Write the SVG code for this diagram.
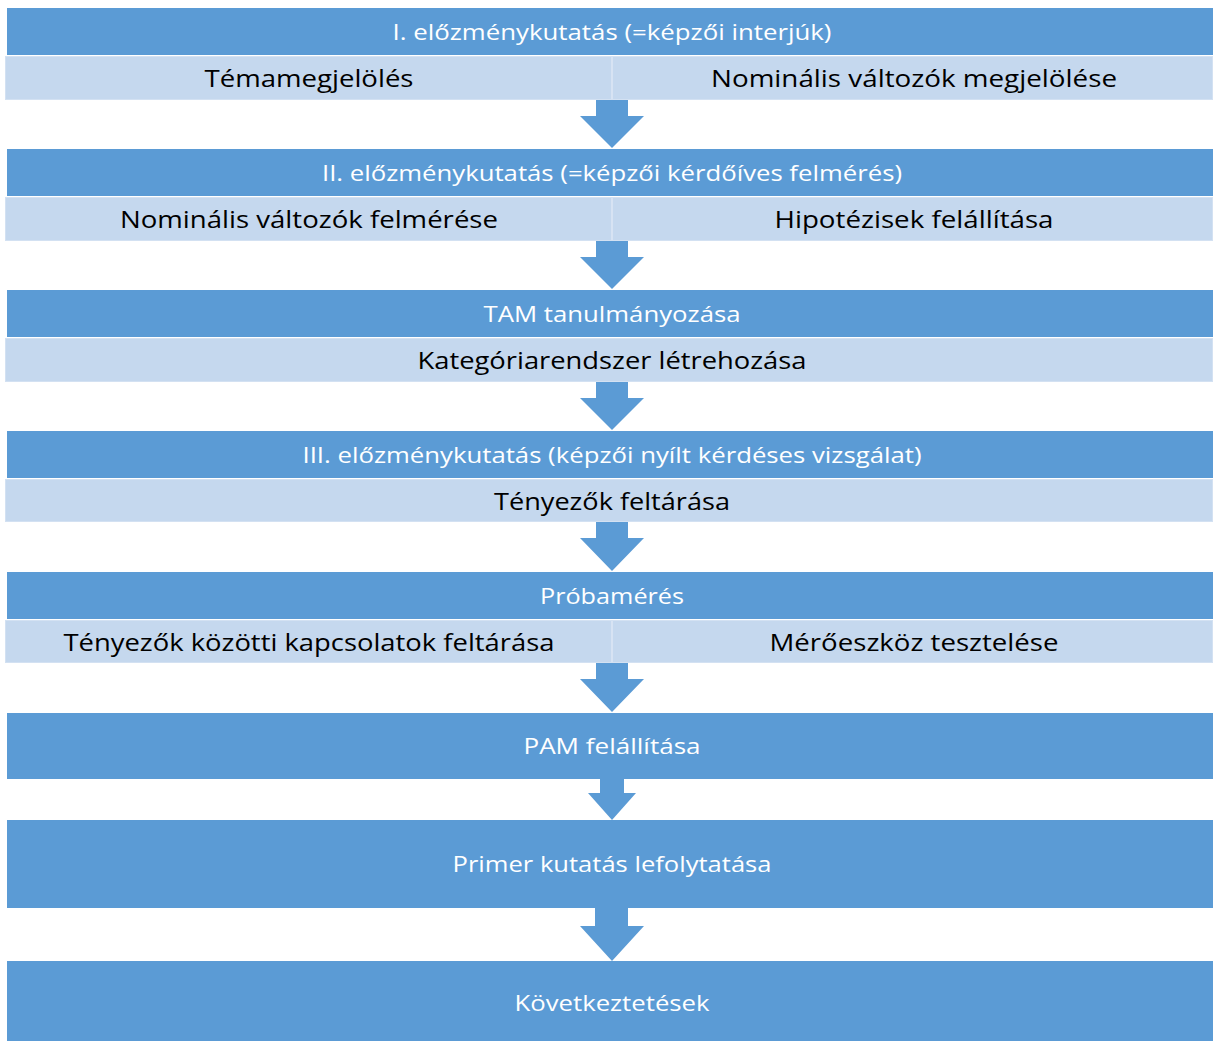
<svg xmlns="http://www.w3.org/2000/svg" width="1213" height="1041" viewBox="0 0 1213 1041">
  <style>
    .hdr { fill: #5B9BD5; }
    .sub { fill: #C5D8EE; }
    .div { stroke: #DCE7F4; stroke-width: 1.5; }
    .edge { fill: none; stroke: #D3E1F2; stroke-width: 1; }
    .ht { font-family: "Open Sans", "Noto Sans", "Liberation Sans", sans-serif; font-size: 21.5px; fill: #FFFFFF; text-anchor: middle; }
    .st { font-family: "Open Sans", "Noto Sans", "Liberation Sans", sans-serif; font-size: 24.5px; fill: #000000; text-anchor: middle; }
    .arr { fill: #5B9BD5; }
  </style>
  <rect width="1213" height="1041" fill="#FFFFFF"/>

  <!-- step 1 -->
  <g id="step1">
    <rect class="hdr" x="7" y="8" width="1206" height="47"/>
    <text class="ht" x="612" y="39.5" textLength="439" lengthAdjust="spacingAndGlyphs">I. előzménykutatás (=képzői interjúk)</text>
    <rect class="sub" x="5" y="56" width="1208" height="44"/>
    <rect class="edge" x="5.5" y="56.5" width="1207" height="43"/>
    <line class="div" x1="612" y1="57" x2="612" y2="99"/>
    <text class="st" x="309" y="87" textLength="209" lengthAdjust="spacingAndGlyphs">Témamegjelölés</text>
    <text class="st" x="914" y="87" textLength="406" lengthAdjust="spacingAndGlyphs">Nominális változók megjelölése</text>
  </g>

  <!-- step 2 -->
  <g id="step2">
    <rect class="hdr" x="7" y="149" width="1206" height="47"/>
    <text class="ht" x="612" y="180.5" textLength="580" lengthAdjust="spacingAndGlyphs">II. előzménykutatás (=képzői kérdőíves felmérés)</text>
    <rect class="sub" x="5" y="197" width="1208" height="44"/>
    <rect class="edge" x="5.5" y="197.5" width="1207" height="43"/>
    <line class="div" x1="612" y1="198" x2="612" y2="240"/>
    <text class="st" x="309" y="228" textLength="378" lengthAdjust="spacingAndGlyphs">Nominális változók felmérése</text>
    <text class="st" x="914" y="228" textLength="279" lengthAdjust="spacingAndGlyphs">Hipotézisek felállítása</text>
  </g>

  <!-- step 3 -->
  <g id="step3">
    <rect class="hdr" x="7" y="290" width="1206" height="47"/>
    <text class="ht" x="612" y="321.5" textLength="257" lengthAdjust="spacingAndGlyphs">TAM tanulmányozása</text>
    <rect class="sub" x="5" y="338" width="1208" height="44"/>
    <rect class="edge" x="5.5" y="338.5" width="1207" height="43"/>
    <text class="st" x="612" y="369" textLength="389" lengthAdjust="spacingAndGlyphs">Kategóriarendszer létrehozása</text>
  </g>

  <!-- step 4 -->
  <g id="step4">
    <rect class="hdr" x="7" y="431" width="1206" height="47"/>
    <text class="ht" x="612" y="462.5" textLength="619" lengthAdjust="spacingAndGlyphs">III. előzménykutatás (képzői nyílt kérdéses vizsgálat)</text>
    <rect class="sub" x="5" y="479" width="1208" height="43"/>
    <rect class="edge" x="5.5" y="479.5" width="1207" height="42"/>
    <text class="st" x="612" y="509.5" textLength="236" lengthAdjust="spacingAndGlyphs">Tényezők feltárása</text>
  </g>

  <!-- step 5 -->
  <g id="step5">
    <rect class="hdr" x="7" y="572" width="1206" height="47"/>
    <text class="ht" x="612" y="603.5" textLength="144" lengthAdjust="spacingAndGlyphs">Próbamérés</text>
    <rect class="sub" x="5" y="620" width="1208" height="43"/>
    <rect class="edge" x="5.5" y="620.5" width="1207" height="42"/>
    <line class="div" x1="612" y1="621" x2="612" y2="662"/>
    <text class="st" x="309" y="650.5" textLength="491" lengthAdjust="spacingAndGlyphs">Tényezők közötti kapcsolatok feltárása</text>
    <text class="st" x="914" y="650.5" textLength="289" lengthAdjust="spacingAndGlyphs">Mérőeszköz tesztelése</text>
  </g>

  <!-- step 6 -->
  <g id="step6">
    <rect class="hdr" x="7" y="713" width="1206" height="66"/>
    <text class="ht" x="612" y="754" textLength="177" lengthAdjust="spacingAndGlyphs">PAM felállítása</text>
  </g>

  <!-- step 7 -->
  <g id="step7">
    <rect class="hdr" x="7" y="820" width="1206" height="88"/>
    <text class="ht" x="612" y="872" textLength="319" lengthAdjust="spacingAndGlyphs">Primer kutatás lefolytatása</text>
  </g>

  <!-- step 8 -->
  <g id="step8">
    <rect class="hdr" x="7" y="961" width="1206" height="80"/>
    <text class="ht" x="612" y="1011" textLength="195" lengthAdjust="spacingAndGlyphs">Következtetések</text>
  </g>

  <!-- block arrows between steps -->
  <g id="connectors">
    <polygon class="arr" points="596,100 628,100 628,116 644,116 612,148 580,116 596,116"/>
    <polygon class="arr" points="596,241 628,241 628,257 644,257 612,289 580,257 596,257"/>
    <polygon class="arr" points="596,382 628,382 628,398 644,398 612,430 580,398 596,398"/>
    <polygon class="arr" points="596,522 628,522 628,538 644,538 612,571 580,538 596,538"/>
    <polygon class="arr" points="596,663 628,663 628,679 644,679 612,712 580,679 596,679"/>
    <polygon class="arr" points="600,779 624,779 624,793 636,793 612,820 588,793 600,793"/>
    <polygon class="arr" points="595,908 628,908 628,926 644,926 612,961 580,926 595,926"/>
  </g>
</svg>
